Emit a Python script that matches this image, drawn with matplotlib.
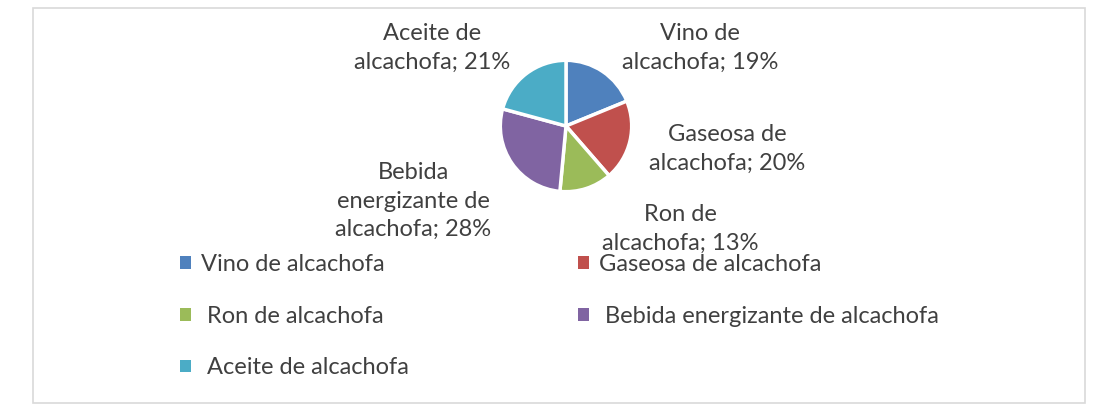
import matplotlib
matplotlib.use("Agg")
import matplotlib.pyplot as plt
from matplotlib.patches import Rectangle, Patch

plt.rcParams['font.family'] = ['Lato', 'DejaVu Sans']

categorias = ["Vino de alcachofa", "Gaseosa de alcachofa", "Ron de alcachofa",
              "Bebida energizante de alcachofa", "Aceite de alcachofa"]
porcentajes = [19, 20, 13, 28, 21]
etiquetas = ["Vino de\nalcachofa; 19%", "Gaseosa de\nalcachofa; 20%", "Ron de\nalcachofa; 13%",
             "Bebida\nenergizante de\nalcachofa; 28%", "Aceite de\nalcachofa; 21%"]
leyenda = ["Vino de alcachofa", "Gaseosa de alcachofa", " Ron de alcachofa",
           " Bebida energizante de alcachofa", " Aceite de alcachofa"]
colores = ["#4F81BD", "#C0504D", "#9BBB59", "#8064A2", "#4BACC6"]

W, H = 1117, 408
fig = plt.figure(figsize=(W / 100, H / 100), dpi=100)
txt = "#404040"

# marco del grafico
fig.patches.append(Rectangle((33 / W, 1 - 403 / H), (1085 - 33) / W, (403 - 8) / H,
                             transform=fig.transFigure, fill=False,
                             edgecolor="#D9D9D9", linewidth=1.2))

cx, cy, r = 566, 126, 67
ax = fig.add_axes([(cx - r) / W, 1 - (cy + r) / H, 2 * r / W, 2 * r / H])
wedges, _ = ax.pie(porcentajes, colors=colores, startangle=90, counterclock=False,
                   wedgeprops=dict(edgecolor="white", linewidth=2.5))
ax.set_xlim(-1.02, 1.02)
ax.set_ylim(-1.02, 1.02)
ax.set_aspect("auto")
ax.axis("off")

# posiciones de las etiquetas (pixeles)
pos_etq = [(700, 48), (727, 149), (680, 229), (413, 201), (432, 48)]
for t, (px, py) in zip(etiquetas, pos_etq):
    fig.text(px / W, 1 - py / H, t, ha="center", va="center", fontsize=17,
             color=txt, linespacing=1.45)

# leyenda fila por fila (matplotlib llena por columnas)
handles = [Patch(facecolor=c, edgecolor="none") for c in colores]
orden = [0, 2, 4, 1, 3]
fig.legend([handles[i] for i in orden], [leyenda[i] for i in orden], ncol=2,
           loc="upper left", bbox_to_anchor=(180 / W, 1 - 254 / H), frameon=False,
           fontsize=17, labelcolor=txt, handlelength=0.45, handleheight=0.45,
           handletextpad=0.45, columnspacing=7.15, labelspacing=1.3,
           borderaxespad=0, borderpad=0)

fig.savefig("out.png", dpi=100)
